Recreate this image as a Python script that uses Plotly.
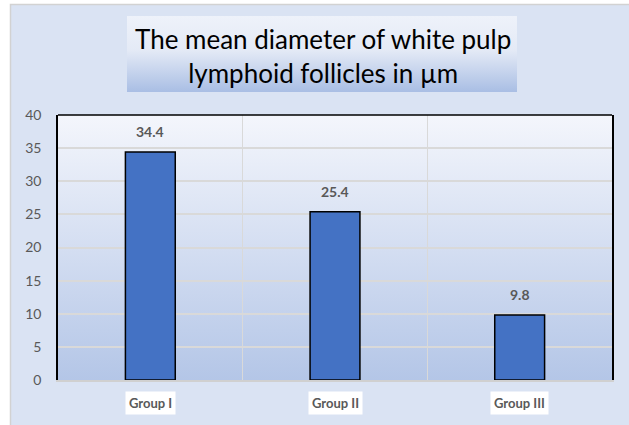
import base64
import plotly.graph_objects as go

categories = ["Group I", "Group II", "Group III"]
values = [34.4, 25.4, 9.8]
value_labels = ["34.4", "25.4", "9.8"]
y_ticks = [0, 5, 10, 15, 20, 25, 30, 35, 40]
title_text = "The mean diameter of white pulp<br>lymphoid follicles in µm"

W, H = 629, 425
L, R, T, B = 58, 612, 115, 380
pw, ph = R - L, B - T

svg = f'''<svg xmlns="http://www.w3.org/2000/svg" width="{W}" height="{H}" viewBox="0 0 {W} {H}" preserveAspectRatio="none">
<defs>
<linearGradient id="g1" x1="0" y1="0" x2="0" y2="1">
<stop offset="0" stop-color="#f4f6fc"/>
<stop offset="1" stop-color="#b4c6e7"/>
</linearGradient>
<linearGradient id="g2" x1="0" y1="0" x2="0" y2="1">
<stop offset="0" stop-color="#eef2fa"/>
<stop offset="0.45" stop-color="#e4eaf6"/>
<stop offset="1" stop-color="#a9bee4"/>
</linearGradient>
</defs>
<rect x="0" y="0" width="{W}" height="{H}" fill="#ffffff"/>
<rect x="10.5" y="4.5" width="630" height="430" fill="#dae3f3" stroke="#d2d2d2" stroke-width="1.5"/>
<rect x="127" y="16" width="390" height="76" fill="url(#g2)"/>
<rect x="{L}" y="{T}" width="{pw}" height="{ph}" fill="url(#g1)"/>
</svg>'''
src = "data:image/svg+xml;base64," + base64.b64encode(svg.encode()).decode()

fig = go.Figure()
fig.add_trace(go.Bar(
    x=categories, y=values,
    marker=dict(color="#4472c4", line=dict(color="#000000", width=1.5)),
    width=0.27, hoverinfo="skip",
))

for c, v, t in zip(categories, values, value_labels):
    fig.add_annotation(x=c, y=v, xref="x", yref="y", yanchor="bottom",
                       yshift=10, text=t, showarrow=False,
                       font=dict(family="Lato", size=14, color="#595959", weight="bold"))

for c in categories:
    fig.add_annotation(x=c, y=0, xref="x", yref="paper", yanchor="top",
                       yshift=-11, text=c, showarrow=False, bgcolor="#ffffff",
                       borderpad=3,
                       font=dict(family="Lato", size=13, color="#595959", weight="bold"))

fig.add_annotation(x=(323 - L) / pw, y=(B - 56) / ph, xref="paper", yref="paper",
                   text=title_text, showarrow=False, xanchor="center", yanchor="middle",
                   font=dict(family="Lato", size=26, color="#000000"))

fig.add_shape(type="line", xref="paper", yref="paper", x0=0, x1=1, y0=1, y1=1,
              line=dict(color="#000000", width=1.5))

fig.add_layout_image(dict(source=src, xref="paper", yref="paper",
                          x=-L / pw, y=1 + T / ph, sizex=W / pw, sizey=H / ph,
                          xanchor="left", yanchor="top", sizing="stretch",
                          layer="below"))

fig.update_layout(
    width=W, height=H,
    margin=dict(l=L, r=W - R, t=T, b=H - B),
    paper_bgcolor="#ffffff", plot_bgcolor="rgba(0,0,0,0)",
    showlegend=False,
    xaxis=dict(type="category", tickson="boundaries", showgrid=True,
               gridcolor="#d9d9d9", gridwidth=1, showticklabels=False,
               showline=True, linecolor="#d0d0d0", linewidth=1.5, ticks=""),
    yaxis=dict(range=[0, 40], tickvals=y_ticks, showgrid=True, gridcolor="#d9d9d9",
               gridwidth=1.5, zeroline=False, showline=True, linecolor="#000000",
               linewidth=1.5, mirror=True, ticks="", ticklabelstandoff=12,
               tickfont=dict(family="Lato", size=14, color="#595959")),
)

fig.write_html("out.html", config={"displayModeBar": False},
               post_script="document.body.style.margin='0';document.body.style.overflow='hidden';")
